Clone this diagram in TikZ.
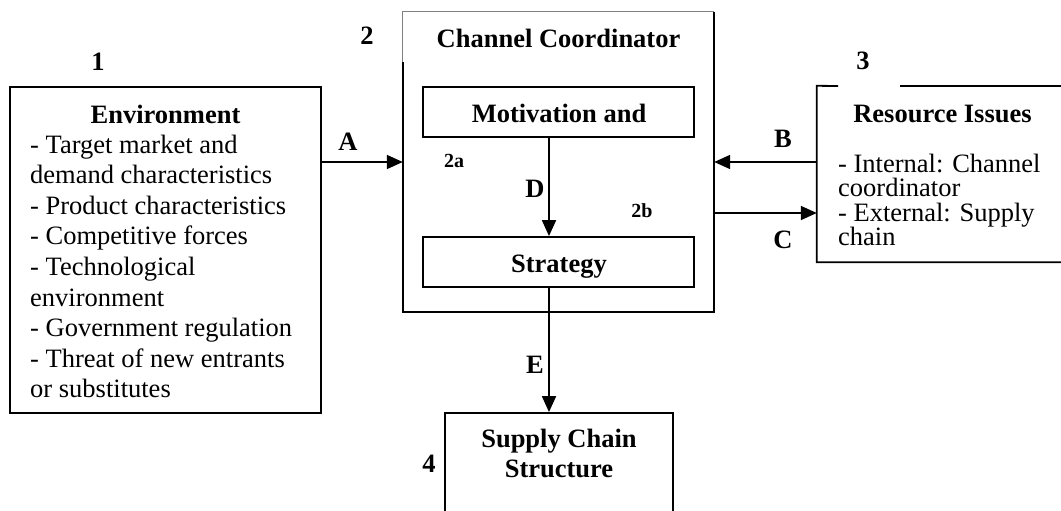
\documentclass[tikz,border=0pt]{standalone}
\usepackage{fontspec}
\setmainfont{Liberation Serif}
\usetikzlibrary{arrows.meta,calc}
\tikzset{
  box/.style={draw,line width=1.8pt,inner sep=0pt,rectangle},
  arr/.style={line width=1.8pt,-{Triangle[length=16pt,width=14pt]}},
  txt/.style={inner sep=0pt,anchor=base west,font=\fontsize{26.5}{30.6}\selectfont},
  ttl/.style={inner sep=0pt,anchor=base,font=\fontsize{26.5}{30.6}\selectfont\bfseries},
  lbl/.style={inner sep=0pt,anchor=base,font=\fontsize{26.5}{30.6}\selectfont\bfseries},
  small/.style={inner sep=0pt,anchor=base,font=\fontsize{20}{24}\selectfont\bfseries},
}
\begin{document}
\begin{tikzpicture}[x=1pt,y=-1pt]
\clip (0,0) rectangle (1061,511);
\fill[white] (0,0) rectangle (1061,511);
% boxes
\node[box,minimum width=311pt,minimum height=326pt] (env) at (165.5,250) {};
\node[draw=none,inner sep=0pt,minimum width=311pt,minimum height=300pt] (chan) at (558.5,162) {};
\draw[gray,line width=0.8pt] (chan.west |- 0,62) -- (chan.north west) -- (chan.north east);
\draw[line width=1.8pt] (chan.west |- 0,62) -- (chan.south west) -- (chan.south east) -- (chan.north east);
\node[box,minimum width=271pt,minimum height=50pt] (mot) at (558.5,112) {};
\node[box,minimum width=271pt,minimum height=50pt] (str) at (558.5,262) {};
\node[draw=none,inner sep=0pt,minimum width=260pt,minimum height=176pt] (res) at (947,174) {};
\coordinate (gapl) at (838,86);
\coordinate (gapr) at (900,86);
\coordinate (resne) at (1070,86);
\draw[line width=1.8pt] (gapl) -- (res.north west) -- (res.south west) -- (res.south east);
\draw[line width=1.8pt] (gapr) -- (resne);
\node[box,minimum width=228pt,minimum height=140pt] (sup) at (559,483) {};
% texts
\node[ttl] (envt) at (165.5,123) {Environment};
\node[txt] (e1) at (30,153) {- Target market and};
\node[txt] (e2) at (30,183.6) {demand characteristics};
\node[txt] (e3) at (30,214.2) {- Product characteristics};
\node[txt] (e4) at (30,244.8) {- Competitive forces};
\node[txt] (e5) at (30,275.4) {- Technological};
\node[txt] (e6) at (30,306) {environment};
\node[txt] (e7) at (30,336.6) {- Government regulation};
\node[txt] (e8) at (30,367.2) {- Threat of new entrants};
\node[txt] (e9) at (30,397.8) {or substitutes};
\node[ttl] (chant) at (558.5,48) {Channel Coordinator};
\node[ttl] (mott) at (559,122) {Motivation and};
\node[ttl] (strt) at (559,272) {Strategy};
\node[ttl] (rest) at (942.5,122) {Resource Issues};
\node[txt] (r1) at (838,172) {- Internal: Channel};
\node[txt] (r2) at (838,196.5) {coordinator};
\node[txt] (r3) at (838,221) {- External: Supply};
\node[txt] (r4) at (838,245.5) {chain};
\node[ttl] (supt1) at (559,447) {Supply Chain};
\node[ttl] (supt2) at (559,477) {Structure};
% numbers
\node[lbl] (n1) at (98,71) {1};
\node[lbl] (n2) at (367,45) {2};
\node[lbl] (n3) at (863,70) {3};
\node[lbl] (n4) at (429,472) {4};
\node[small] (n2a) at (454,167) {2a};
\node[small] (n2b) at (642,217) {2b};
% connectors
\coordinate (ya) at (0,162);
\coordinate (yc) at (0,213);
\coordinate (xd) at (549,0);
\draw[arr] (env.east |- ya) -- (chan.west |- ya);
\draw[arr] (res.west |- ya) -- (chan.east |- ya);
\draw[arr] (chan.east |- yc) -- (res.west |- yc);
\draw[arr] (mot.south -| xd) -- (str.north -| xd);
\draw[arr] (str.south -| xd) -- (sup.north -| xd);
% connector labels
\node[lbl] (la) at (348,150) {A};
\node[lbl] (lb) at (783,147) {B};
\node[lbl] (lc) at (783,248) {C};
\node[lbl] (ld) at (535,197) {D};
\node[lbl] (le) at (535,373) {E};
\end{tikzpicture}
\end{document}
